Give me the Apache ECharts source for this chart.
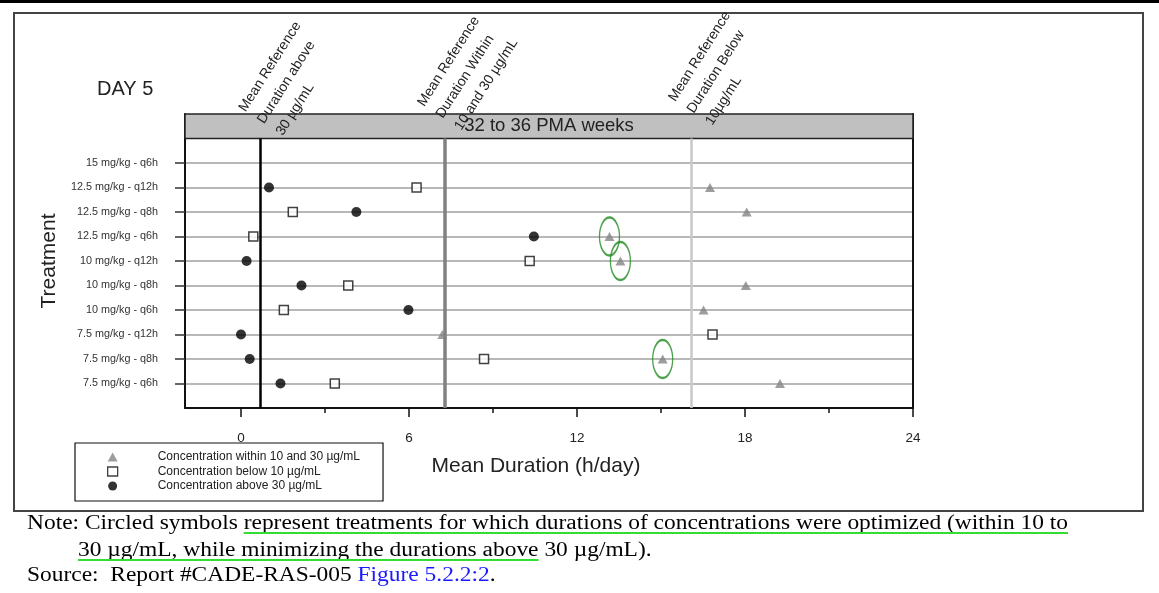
<!DOCTYPE html>
<html>
<head>
<meta charset="utf-8">
<script src="https://cdn.jsdelivr.net/npm/echarts@6/dist/echarts.min.js"></script>
<style>
  html, body { margin: 0; background: #fff; }
  #chart { width: 1159px; height: 593px; }
</style>
</head>
<body>
<div id="chart"></div>
<script>
  // rows from bottom to top
  const treatments = [
    '7.5 mg/kg - q6h', '7.5 mg/kg - q8h', '7.5 mg/kg - q12h',
    '10 mg/kg - q6h', '10 mg/kg - q8h', '10 mg/kg - q12h',
    '12.5 mg/kg - q6h', '12.5 mg/kg - q8h', '12.5 mg/kg - q12h',
    '15 mg/kg - q6h'
  ];
  const withinHours = [19.25, 15.06, 7.19, 16.52, 18.03, 13.55, 13.16, 18.06, 16.75, null];
  const belowHours = [3.35, 8.68, 16.84, 1.53, 3.83, 10.31, 0.44, 1.85, 6.27, null];
  const aboveHours = [1.41, 0.31, 0.0, 5.98, 2.16, 0.2, 10.46, 4.12, 1.0, null];
  // rows whose "within" symbol is circled
  const circledRows = ['7.5 mg/kg - q8h', '10 mg/kg - q12h', '12.5 mg/kg - q6h'];
  // mean reference durations: above 30, within 10-30, below 10
  const refHours = [0.68, 7.27, 16.08];
  const xTicks = [0, 6, 12, 18, 24];
  const xMinorTicks = [3, 9, 15, 21];
  const header = '32 to 36 PMA weeks';
  const seriesNames = [
    'Concentration within 10 and 30 µg/mL',
    'Concentration below 10 µg/mL',
    'Concentration above 30 µg/mL'
  ];

  const rows = treatments.map((t, i) => i + 1);
  const toPoints = arr => arr.map((v, i) => v == null ? null : [v, i + 1]).filter(p => p);
  const circledPoints = circledRows.map(t => {
    const i = treatments.indexOf(t);
    return [withinHours[i], i + 1];
  });

  const sans = '"Liberation Sans", Arial, sans-serif';
  const serif = '"Liberation Serif", "Times New Roman", serif';

  // note text, squeezed horizontally like the scanned page
  const noteLine1a = 'Note: Circled symbols ';
  const noteLine1b = 'represent treatments for which durations of concentrations were optimized (within 10 to';
  const noteLine2a = '30 µg/mL, while minimizing the durations above';
  const noteLine2b = ' 30 µg/mL).';
  const noteFont = '20px ' + serif;
  const ctx = document.createElement('canvas').getContext('2d');
  ctx.font = noteFont;
  const sx = 1041 / ctx.measureText(noteLine1a + noteLine1b).width;
  const w = s => ctx.measureText(s).width * sx;

  const rot = 57.5 * Math.PI / 180;
  const noteStyle = { font: noteFont, fill: '#000', align: 'left', textAlign: 'left', verticalAlign: 'middle', textVerticalAlign: 'middle' };
  const annStyle = { font: '14px ' + sans, fill: '#222', lineHeight: 22, align: 'left', textAlign: 'left', verticalAlign: 'top', textVerticalAlign: 'top' };

  const myChart = echarts.init(document.getElementById('chart'));
  myChart.setOption({
    animation: false,
    grid: { left: 185, right: 246, top: 114, bottom: 185 },
    xAxis: [{
      type: 'value', min: -2, max: 24,
      axisLine: { show: true, onZero: false, lineStyle: { color: '#111', width: 2 } },
      axisTick: { customValues: xTicks, length: 9, lineStyle: { color: '#111', width: 1.5 } },
      axisLabel: { customValues: xTicks, margin: 23, fontSize: 13.5, color: '#222', fontFamily: sans },
      splitLine: { show: false }
    }, {
      type: 'value', min: -2, max: 24, position: 'bottom', offset: 0,
      axisLine: { show: false },
      axisTick: { customValues: xMinorTicks, length: 5, lineStyle: { color: '#111', width: 1.5 } },
      axisLabel: { show: false },
      splitLine: { show: false }
    }],
    yAxis: [{
      type: 'value', min: 0, max: 12, interval: 1,
      name: 'Treatment', nameLocation: 'middle', nameGap: 122,
      nameTextStyle: { fontSize: 21, color: '#222', fontFamily: sans },
      axisLine: { show: true, onZero: false, lineStyle: { color: '#111', width: 2 } },
      axisTick: { customValues: rows, length: 10, lineStyle: { color: '#333', width: 1.5 } },
      axisLabel: {
        customValues: rows, margin: 27, fontSize: 10.8, color: '#333', fontFamily: sans,
        formatter: v => treatments[v - 1] || ''
      },
      splitLine: { show: true, lineStyle: { color: '#a0a0a0', width: 1.5 } }
    }, {
      type: 'value', min: 0, max: 12, position: 'right',
      axisLine: { show: true, onZero: false, lineStyle: { color: '#111', width: 2 } },
      axisTick: { show: false }, axisLabel: { show: false }, splitLine: { show: false }
    }],
    legend: {
      orient: 'vertical', left: 75, top: 443,
      data: [
        { name: seriesNames[0] },
        { name: seriesNames[1], itemStyle: { borderWidth: 1.3 } },
        { name: seriesNames[2] }
      ],
      itemWidth: 10, itemHeight: 9, itemGap: 2.5,
      padding: [8, 23, 9, 32],
      borderColor: '#111', borderWidth: 1.2, borderRadius: 0, backgroundColor: '#fff',
      formatter: n => '{s|}' + n,
      textStyle: { fontSize: 12, lineHeight: 12, color: '#222', fontFamily: sans, rich: { s: { width: 35 } } }
    },
    series: [{
      name: seriesNames[0], type: 'scatter', z: 3,
      symbol: 'triangle', symbolSize: [10, 9],
      itemStyle: { color: '#858585' },
      data: toPoints(withinHours)
    }, {
      name: seriesNames[1], type: 'scatter', z: 3,
      symbol: 'rect', symbolSize: 9,
      itemStyle: { color: '#fff', borderColor: '#111', borderWidth: 1.5 },
      data: toPoints(belowHours)
    }, {
      name: seriesNames[2], type: 'scatter', z: 3,
      symbol: 'circle', symbolSize: 10,
      itemStyle: { color: '#000' },
      data: toPoints(aboveHours)
    }, {
      name: 'circled', type: 'scatter', z: 4, silent: true,
      symbol: 'circle', symbolSize: [20, 38],
      itemStyle: { color: 'rgba(0,0,0,0)', borderColor: '#228b22', borderWidth: 1.8 },
      data: circledPoints
    }, {
      name: 'reference', type: 'line', z: 5, data: [],
      markLine: {
        silent: true, symbol: ['none', 'none'], label: { show: false },
        data: [
          [{ coord: [refHours[0], 0], lineStyle: { color: '#000', width: 2.5, type: 'solid' } }, { coord: [refHours[0], 11] }],
          [{ coord: [refHours[1], 0], lineStyle: { color: '#808080', width: 3.5, type: 'solid' } }, { coord: [refHours[1], 11] }],
          [{ coord: [refHours[2], 0], lineStyle: { color: '#c8c8c8', width: 2.5, type: 'solid' } }, { coord: [refHours[2], 11] }]
        ]
      },
      markArea: {
        silent: true,
        itemStyle: { color: '#c0c0c0', borderColor: '#222', borderWidth: 1.5 },
        label: { show: true, position: 'inside', fontSize: 18.5, color: '#222', fontFamily: sans },
        data: [[{ name: header, coord: [-2, 11] }, { coord: [24, 12] }]]
      }
    }],
    graphic: [
      { type: 'rect', shape: { x: 0, y: 0, width: 1159, height: 3 }, style: { fill: '#000' } },
      { type: 'rect', shape: { x: 14, y: 13, width: 1129, height: 498 }, style: { fill: 'none', stroke: '#444', lineWidth: 2 } },
      { type: 'text', x: 97, y: 89, style: { text: 'DAY 5', font: '20px ' + sans, fill: '#222', align: 'left', textAlign: 'left', verticalAlign: 'middle', textVerticalAlign: 'middle' } },
      { type: 'text', x: 536, y: 466, style: { text: 'Mean Duration (h/day)', font: '21px ' + sans, fill: '#222', align: 'center', textAlign: 'center', verticalAlign: 'middle', textVerticalAlign: 'middle' } },
      { type: 'text', x: 233, y: 104.6, rotation: rot, z: 10,
        style: Object.assign({ text: 'Mean Reference\nDuration above\n30 µg/mL' }, annStyle) },
      { type: 'text', x: 411.6, y: 99.3, rotation: rot, z: 10,
        style: Object.assign({ text: 'Mean Reference\nDuration Within\n10 and 30 µg/mL' }, annStyle) },
      { type: 'text', x: 662.6, y: 94.3, rotation: rot, z: 10,
        style: Object.assign({ text: 'Mean Reference\nDuration Below\n10µg/mL' }, annStyle) },
      // note under the chart
      { type: 'text', x: 27, y: 524, scaleX: sx,
        style: Object.assign({ text: noteLine1a + noteLine1b }, noteStyle) },
      { type: 'text', x: 78, y: 551, scaleX: sx,
        style: Object.assign({ text: noteLine2a + noteLine2b }, noteStyle) },
      { type: 'text', x: 27, y: 576, scaleX: sx,
        style: Object.assign({
          text: '{a|Source:  Report #CADE-RAS-005 }{b|Figure 5.2.2:2}{a|.}',
          rich: { a: { fill: '#000', color: '#000', font: noteFont }, b: { fill: '#1a1aff', color: '#1a1aff', font: noteFont } }
        }, noteStyle) },
      { type: 'line', shape: { x1: 27 + w(noteLine1a), y1: 533, x2: 27 + w(noteLine1a + noteLine1b), y2: 533 }, style: { stroke: '#33dd33', lineWidth: 1.8 } },
      { type: 'line', shape: { x1: 78, y1: 560, x2: 78 + w(noteLine2a), y2: 560 }, style: { stroke: '#33dd33', lineWidth: 1.8 } }
    ]
  });
</script>
</body>
</html>
